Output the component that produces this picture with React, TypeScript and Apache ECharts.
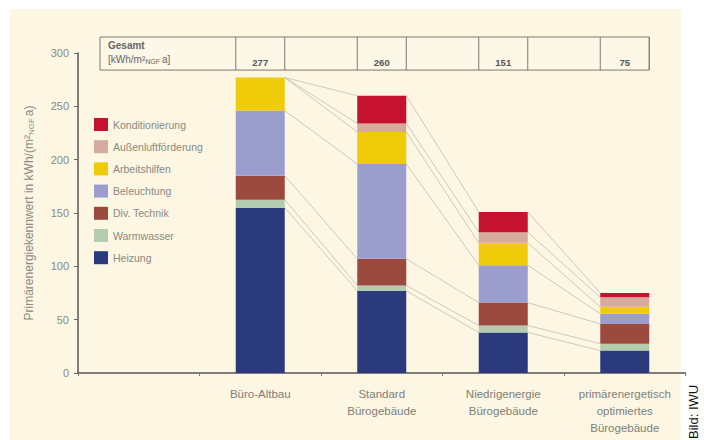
import React, { useEffect, useRef } from "react";
import * as echarts from "echarts";

const categories = ["", "Büro-Altbau", "Standard\nBürogebäude", "Niedrigenergie\nBürogebäude", "primärenergetisch\noptimiertes\nBürogebäude"];
const seriesNames = ["Heizung", "Warmwasser", "Div. Technik", "Beleuchtung", "Arbeitshilfen", "Außenluftförderung", "Konditionierung"];
const heizung = [155, 77, 38, 21];
const warmwasser = [7.5, 5, 6.5, 6.5];
const technik = [22.5, 25, 21.5, 18.5];
const beleuchtung = [61, 89, 35, 9.5];
const arbeitshilfen = [31, 30, 21, 6.5];
const aussenluft = [0, 8, 10, 9];
const konditionierung = [0, 26, 19, 4];
const totals = [277, 260, 151, 75];
const yTicks = [0, 50, 100, 150, 200, 250, 300];

const colors = ["#2b3a7d", "#b4ccae", "#9c4a3e", "#9b9dcc", "#efcb0a", "#d6aa9c", "#c5122f"];
const BW = 49;
const FONT = "Liberation Sans, Arial, sans-serif";

export default function App() {
  const ref = useRef<HTMLDivElement>(null);
  useEffect(() => {
    const chart = echarts.init(ref.current!, null, { renderer: "svg" });
    const values = [heizung, warmwasser, technik, beleuchtung, arbeitshilfen, aussenluft, konditionierung];

    const barSeries = values.map((arr, si) => ({
      name: seriesNames[si],
      type: "bar",
      stack: "total",
      barWidth: BW,
      data: [null, ...arr],
      itemStyle: { color: colors[si] },
      z: 3,
    }));

    const cum: number[][] = [];
    for (let si = 0; si < values.length; si++) {
      cum.push(values[si].map((v, bi) => (si > 0 ? cum[si - 1][bi] : 0) + v));
    }
    const connData: number[][] = [];
    for (let si = 0; si < cum.length; si++) {
      for (let bi = 0; bi < 3; bi++) {
        connData.push([bi + 1, cum[si][bi], cum[si][bi + 1]]);
      }
    }

    const tableData = totals.map((t, i) => [i + 1, t]);

    const option: any = {
      animation: false,
      backgroundColor: "transparent",
      textStyle: { fontFamily: FONT },
      grid: { left: 78, top: 53, bottom: 67, width: 607.5, containLabel: false },
      legend: {
        orient: "vertical",
        left: 89,
        top: 113,
        itemWidth: 14,
        itemHeight: 13,
        itemGap: 9.2,
        icon: "rect",
        data: [...seriesNames].reverse(),
        textStyle: { fontSize: 10.5, color: "#8a8a80", fontFamily: FONT },
      },
      xAxis: {
        type: "category",
        data: categories,
        axisLine: { lineStyle: { color: "#555", width: 1.5 } },
        axisTick: { show: true, length: 3, lineStyle: { color: "#777" } },
        axisLabel: { interval: 0, fontSize: 11.5, color: "#808078", lineHeight: 17, margin: 12 },
      },
      yAxis: {
        type: "value",
        min: 0,
        max: 300,
        interval: 50,
        name: "Primärenergiekennwert in kWh/(m²{sub|NGF}a)",
        nameLocation: "middle",
        nameGap: 43,
        nameTextStyle: {
          fontSize: 12,
          color: "#8a8a80",
          rich: { sub: { fontSize: 8, color: "#8a8a80", padding: [5, 2, 0, 0] } },
        },
        splitLine: { show: false },
        axisLine: { show: true, lineStyle: { color: "#555", width: 1.5 } },
        axisTick: { show: true, length: 4, lineStyle: { color: "#666" } },
        axisLabel: {
          fontSize: 11,
          color: "#8a8a80",
          margin: 9,
          formatter: (v: number) => (yTicks.includes(v) ? String(v) : ""),
        },
      },
      series: [
        {
          type: "custom",
          silent: true,
          clip: false,
          z: 1,
          data: connData,
          renderItem: (params: any, api: any) => {
            const i = api.value(0);
            const p1 = api.coord([i, api.value(1)]);
            const p2 = api.coord([i + 1, api.value(2)]);
            return {
              type: "line",
              shape: { x1: p1[0] + BW / 2, y1: p1[1], x2: p2[0] - BW / 2, y2: p2[1] },
              style: { stroke: "#c9c4ba", lineWidth: 0.9 },
            };
          },
        },
        ...barSeries,
        {
          type: "custom",
          silent: true,
          clip: false,
          z: 5,
          data: tableData,
          renderItem: (params: any, api: any) => {
            const i = api.value(0);
            const c = api.coord([i, 0]);
            const top = api.coord([i, 315])[1];
            const bottom = api.coord([i, 284])[1];
            const stroke = "#7d7a70";
            const children: any[] = [
              { type: "line", shape: { x1: c[0] - BW / 2, y1: top, x2: c[0] - BW / 2, y2: bottom }, style: { stroke, lineWidth: 1 } },
              { type: "line", shape: { x1: c[0] + BW / 2, y1: top, x2: c[0] + BW / 2, y2: bottom }, style: { stroke, lineWidth: 1 } },
              {
                type: "text",
                x: c[0],
                y: bottom - 8,
                style: { text: String(api.value(1)), fontSize: 9.5, fill: "#555", align: "center", verticalAlign: "middle", fontFamily: FONT, fontWeight: "bold" },
              },
            ];
            if (params.dataIndex === 0) {
              const c0 = api.coord([0, 0]);
              const band = api.size([1, 0])[0];
              const cLast = api.coord([totals.length, 0]);
              const left = c0[0] - band / 2 + 22;
              const right = cLast[0] + BW / 2;
              children.push({
                type: "rect",
                shape: { x: left, y: top, width: right - left, height: bottom - top },
                style: { fill: "rgba(255,255,255,0.15)", stroke, lineWidth: 1 },
                z2: -1,
              });
              children.push({
                type: "text",
                x: left + 8,
                y: top + 8,
                style: { text: "Gesamt", fontSize: 10, fill: "#666", verticalAlign: "middle", fontFamily: FONT, fontWeight: "bold" },
              });
              children.push({
                type: "text",
                x: left + 8,
                y: top + 22,
                style: {
                  text: "[kWh/m²{sub|NGF}a]",
                  fontSize: 10,
                  fill: "#666",
                  verticalAlign: "middle",
                  fontFamily: FONT,
                  rich: { sub: { fontSize: 7, fill: "#666", padding: [5, 2, 0, 0] } },
                },
              });
            }
            return { type: "group", children };
          },
        },
      ],
      graphic: [
        {
          type: "text",
          x: 693,
          y: 439,
          rotation: Math.PI / 2,
          style: { text: "Bild: IWU", fontSize: 13, fill: "#111", align: "left", verticalAlign: "middle", fontFamily: FONT },
        },
      ],
    };
    chart.setOption(option);
    return () => chart.dispose();
  }, []);

  return (
    <div style={{ position: "fixed", left: 0, top: 0, width: 704, height: 440, background: "#ffffff" }}>
      <div style={{ position: "absolute", left: 10, top: 9, width: 671, height: 431, background: "#fcf6e3" }} />
      <div ref={ref} style={{ position: "absolute", left: 0, top: 0, width: 704, height: 440 }} />
    </div>
  );
}
